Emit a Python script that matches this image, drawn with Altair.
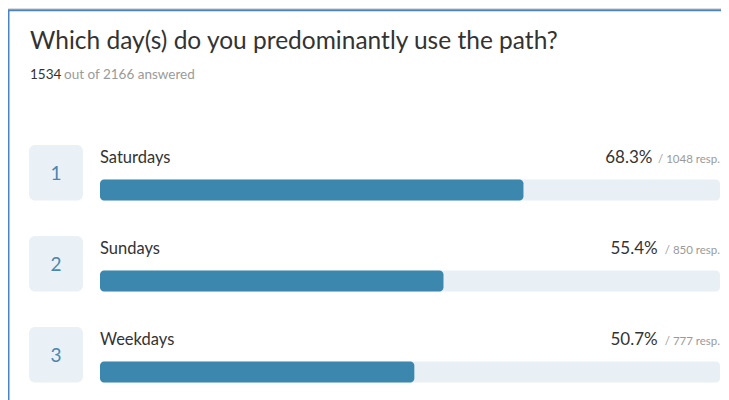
import altair as alt
import pandas as pd

# ---- data ----
ranks = [1, 2, 3]
categories = ["Saturdays", "Sundays", "Weekdays"]
percents = [68.3, 55.4, 50.7]
responses = [1048, 850, 777]

title_text = "Which day(s) do you predominantly use the path?"
answered = "1534"
answered_rest = "out of 2166 answered"

FONT = "Lato"

df = pd.DataFrame({
    "rank": ranks,
    "category": categories,
    "pct": percents,
    "resp": responses,
})
df["pct_label"] = [f"{p:.1f}%" for p in percents]
df["resp_label"] = [f"/ {r} resp." for r in responses]
df["rank_label"] = [str(r) for r in ranks]

xs = alt.Scale(domain=[0, 100], range=[92, 712], nice=False, zero=False)
ys = alt.Scale(domain=[1, 3], range=[182, 364], nice=False, zero=False)

base = alt.Chart(df).transform_calculate(
    zero="0",
    full="100",
    pct_x="100 - (length(datum.resp_label) * 5.3 + 4) / 6.2",
)
Y = alt.Y("rank:Q", scale=ys, axis=None)
Y2 = alt.Y2("rank:Q")
X0 = alt.X("zero:Q", scale=xs, axis=None)

# frame (left + top blue border of the card)
frame_df = pd.DataFrame({"k": [0]})
left_border = alt.Chart(frame_df).mark_rule(color="#4a83c1", strokeWidth=2).encode(
    x=alt.value(0.5), y=alt.value(2), y2=alt.value(392)
)
top_border = alt.Chart(frame_df).mark_rule(color="#4a83c1", strokeWidth=2).encode(
    x=alt.value(0), x2=alt.value(713), y=alt.value(2.3)
)

title = alt.Chart(frame_df).mark_text(
    text=title_text, font=FONT, fontSize=24.5, color="#333333", align="left",
    baseline="alphabetic"
).encode(x=alt.value(22), y=alt.value(40.5))

sub1 = alt.Chart(frame_df).mark_text(
    text=answered, font=FONT, fontSize=13.5, color="#333333", align="left",
    baseline="alphabetic"
).encode(x=alt.value(22), y=alt.value(71))

sub2 = alt.Chart(frame_df).mark_text(
    text=answered_rest, font=FONT, fontSize=13.5, color="#9a9a9a", align="left",
    baseline="alphabetic"
).encode(x=alt.value(56), y=alt.value(71))

# rank boxes
boxes = base.mark_rect(color="#eaf1f6", cornerRadius=6, yOffset=-45, y2Offset=10.5).encode(
    x=alt.value(21), x2=alt.value(75), y=Y, y2=Y2
)
box_nums = base.mark_text(
    font=FONT, fontSize=19, color="#4a86b0", align="center", baseline="middle", dy=-16
).encode(x=alt.value(48), y=Y, text="rank_label:N")

# bars
bg_bars = base.mark_rect(color="#e9f0f5", cornerRadius=4, yOffset=-10.5, y2Offset=10.5).encode(
    x=X0, x2="full:Q", y=Y, y2=Y2
)
bars = base.mark_rect(color="#3b87ae", cornerRadius=4, yOffset=-10.5, y2Offset=10.5).encode(
    x=X0, x2="pct:Q", y=Y, y2=Y2
)

labels = base.mark_text(
    font=FONT, fontSize=16.5, color="#333333", align="left", baseline="alphabetic", dy=-27.5
).encode(x=alt.value(92), y=Y, text="category:N")

resp_text = base.mark_text(
    font=FONT, fontSize=11.5, color="#9a9a9a", align="right", baseline="alphabetic", dy=-27.5
).encode(x=alt.X("full:Q", scale=xs, axis=None), y=Y, text="resp_label:N")

pct_text = base.mark_text(
    font=FONT, fontSize=17, color="#333333", align="right", baseline="alphabetic", dy=-27.5
).encode(x=alt.X("pct_x:Q", scale=xs, axis=None), y=Y, text="pct_label:N")

chart = alt.layer(
    left_border, top_border, title, sub1, sub2,
    boxes, box_nums, bg_bars, bars, labels, resp_text, pct_text
).properties(
    width=713, height=392, padding=0,
    autosize=alt.AutoSizeParams(type="none")
).configure_view(strokeWidth=0).configure(background="white")

chart.save("out.html", embed_options={"renderer": "svg", "actions": False})
